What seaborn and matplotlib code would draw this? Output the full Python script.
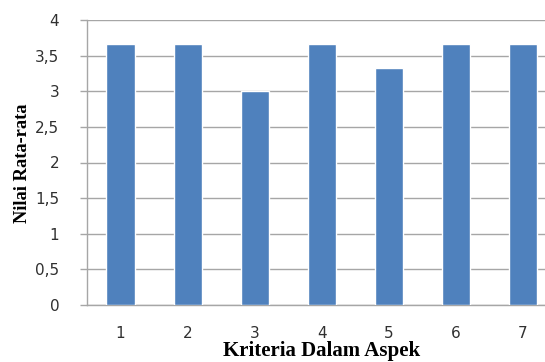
import matplotlib
matplotlib.use("Agg")
import matplotlib.pyplot as plt
import matplotlib.ticker as mticker
import seaborn as sns

# ── Data ─────────────────────────────────────────────────────────
kriteria = ["1", "2", "3", "4", "5", "6", "7"]
nilai = [3.67, 3.67, 3.00, 3.67, 3.33, 3.67, 3.67]

# ── Style ────────────────────────────────────────────────────────
sns.set_theme(style="white")
plt.rcParams["font.family"] = ["DejaVu Sans"]

BAR_COLOR = "#4F81BD"
GRID_COLOR = "#A6A6A6"

fig = plt.figure(figsize=(5.45, 3.62), dpi=100)
ax = fig.add_axes([87 / 545, 57 / 362, 1 - 87 / 545, 285 / 362])

sns.barplot(x=kriteria, y=nilai, color=BAR_COLOR, width=0.42,
            saturation=1, ax=ax, zorder=3)

ax.set_xlim(-0.5, 6.33)
ax.set_ylim(0, 4)
ax.set_yticks([0, 0.5, 1, 1.5, 2, 2.5, 3, 3.5, 4])
ax.yaxis.set_major_formatter(
    mticker.FuncFormatter(lambda v, _: f"{v:g}".replace(".", ","))
)

ax.grid(axis="y", color=GRID_COLOR, linewidth=1, zorder=0)
ax.set_axisbelow(True)
for side in ["top", "right"]:
    ax.spines[side].set_visible(False)
for side in ["left", "bottom"]:
    ax.spines[side].set_color(GRID_COLOR)
    ax.spines[side].set_linewidth(1)

ax.tick_params(axis="y", which="major", left=True, length=5, width=1,
               color=GRID_COLOR, pad=15, labelsize=11, labelcolor="#303030")
ax.tick_params(axis="x", which="major", bottom=False, pad=9,
               labelsize=11, labelcolor="#303030")

ax.set_xlabel("")
ax.set_ylabel("")
# x label sits right at the bottom edge of the figure
fig.text(322 / 545, 1 / 362, "Kriteria Dalam Aspek", ha="center",
         va="bottom", fontsize=15, fontweight="bold",
         family="Liberation Serif", color="black")
fig.text(23 / 545, 1 - 163 / 362, "Nilai Rata-rata", ha="center",
         va="center", rotation=90, fontsize=13.3, fontweight="bold",
         family="Liberation Serif", color="black")

fig.savefig("out.png", dpi=100)
plt.close(fig)
